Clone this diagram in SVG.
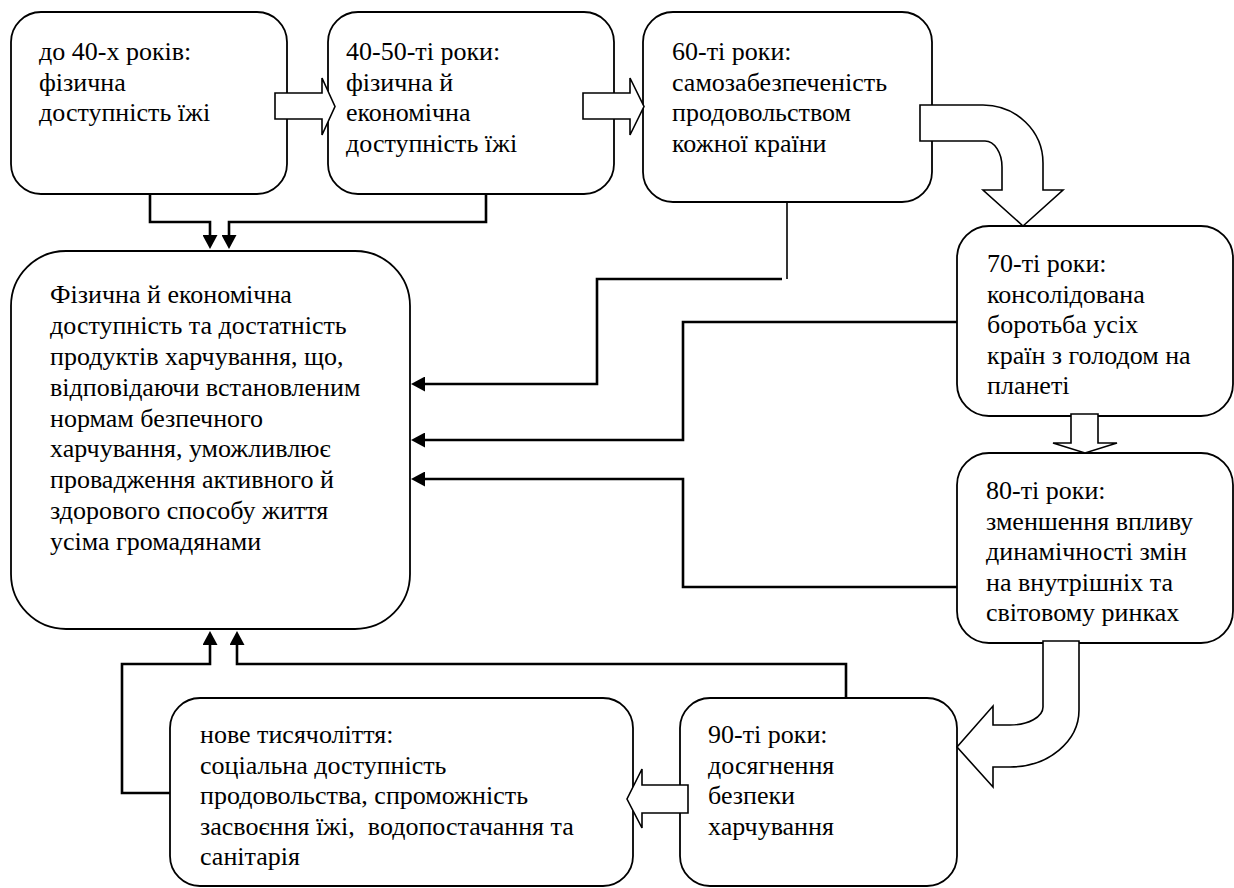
<svg xmlns="http://www.w3.org/2000/svg" width="1234" height="888" viewBox="0 0 1234 888">
<style>
.box{fill:#fff;stroke:#000;stroke-width:1.8}
.blk{fill:#fff;stroke:#000;stroke-width:1.6;stroke-linejoin:miter}
.con{fill:none;stroke:#000;stroke-width:2.6}
.thin{fill:none;stroke:#000;stroke-width:1.6}
.t{font-family:'Liberation Serif','Times New Roman',serif;font-size:26px;fill:#000;white-space:pre}
</style>
<defs>
<marker id="ah" viewBox="0 0 14 15" refX="8" refY="7.5" markerWidth="14" markerHeight="15" orient="auto" markerUnits="userSpaceOnUse">
<path d="M0,0 L14,7.5 L0,15 z" fill="#000"/>
</marker>
</defs>
<rect width="1234" height="888" fill="#fff"/>
<g id="connectors">
<path class="con" d="M150,194 V222 H210 V243" marker-end="url(#ah)"/>
<path class="con" d="M486,194 V222 H229 V243" marker-end="url(#ah)"/>
<path class="thin" d="M787,202 V279"/>
<path class="con" d="M782,279 H597 V384 H417" marker-end="url(#ah)"/>
<path class="con" d="M957,322 H683 V440 H417" marker-end="url(#ah)"/>
<path class="con" d="M957,587 H683 V479 H417" marker-end="url(#ah)"/>
<path class="con" d="M846,698 V664 H237 V637" marker-end="url(#ah)"/>
<path class="con" d="M170,793 H122 V664 H210 V637" marker-end="url(#ah)"/>
</g>
<g id="main">
<rect class="box" x="11" y="251" width="399" height="378" rx="55" ry="55"/>
<text class="t" x="50" y="303">Фізична й економічна</text>
<text class="t" x="50" y="334">доступність та достатність</text>
<text class="t" x="50" y="365">продуктів харчування, що,</text>
<text class="t" x="50" y="396">відповідаючи встановленим</text>
<text class="t" x="50" y="427">нормам безпечного</text>
<text class="t" x="50" y="457">харчування, уможливлює</text>
<text class="t" x="50" y="488">провадження активного й</text>
<text class="t" x="50" y="519">здорового способу життя</text>
<text class="t" x="50" y="550">усіма громадянами</text>
</g>
<g id="n1">
<rect class="box" x="11" y="12" width="276" height="182" rx="30" ry="30"/>
<text class="t" x="39" y="60">до 40-х років:</text>
<text class="t" x="39" y="90.5">фізична</text>
<text class="t" x="39" y="121">доступність їжі</text>
</g>
<g id="n2">
<rect class="box" x="328" y="12" width="286" height="182" rx="30" ry="30"/>
<text class="t" x="346" y="60">40-50-ті роки:</text>
<text class="t" x="346" y="90.5">фізична й</text>
<text class="t" x="346" y="121">економічна</text>
<text class="t" x="346" y="151.5">доступність їжі</text>
</g>
<g id="n3">
<rect class="box" x="643" y="12" width="289" height="190" rx="30" ry="30"/>
<text class="t" x="672" y="60">60-ті роки:</text>
<text class="t" x="672" y="90.5">самозабезпеченість</text>
<text class="t" x="672" y="121">продовольством</text>
<text class="t" x="672" y="151.5">кожної країни</text>
</g>
<g id="n4">
<rect class="box" x="957" y="226" width="276" height="190" rx="32" ry="32"/>
<text class="t" x="987" y="272">70-ті роки:</text>
<text class="t" x="987" y="302.5">консолідована</text>
<text class="t" x="987" y="333">боротьба усіх</text>
<text class="t" x="987" y="363.5">країн з голодом на</text>
<text class="t" x="987" y="394">планеті</text>
</g>
<g id="n5">
<rect class="box" x="957" y="453" width="276" height="190" rx="32" ry="32"/>
<text class="t" x="986" y="499">80-ті роки:</text>
<text class="t" x="986" y="529.5">зменшення впливу</text>
<text class="t" x="986" y="560">динамічності змін</text>
<text class="t" x="986" y="590.5">на внутрішніх та</text>
<text class="t" x="986" y="621">світовому ринках</text>
</g>
<g id="n6">
<rect class="box" x="680" y="698" width="277" height="188" rx="30" ry="30"/>
<text class="t" x="708" y="743">90-ті роки:</text>
<text class="t" x="708" y="773.5">досягнення</text>
<text class="t" x="708" y="804">безпеки</text>
<text class="t" x="708" y="834.5">харчування</text>
</g>
<g id="n7">
<rect class="box" x="170" y="698" width="463" height="188" rx="30" ry="30"/>
<text class="t" x="200" y="743">нове тисячоліття:</text>
<text class="t" x="200" y="773.5">соціальна доступність</text>
<text class="t" x="200" y="804">продовольства, спроможність</text>
<text class="t" x="200" y="834.5">засвоєння їжі,  водопостачання та</text>
<text class="t" x="200" y="865">санітарія</text>
</g>
<g id="block-arrows">
<path class="blk" d="M275,93 H322 V78 L335,106.5 L322,135 V119 H275 Z"/>
<path class="blk" d="M583,93 H630 V78 L644,106.5 L630,135 V119 H583 Z"/>
<path class="blk" d="M920,105 H983 A60,58 0 0 1 1043,163 V190 H1063 L1023,226 L983,190 H1002 V167 A17,26 0 0 0 985,141 H920 Z"/>
<path class="blk" d="M1071,414 H1098 V443 H1117 L1085,453 L1053,443 H1071 Z"/>
<path class="blk" d="M1043,641 V707 A33,18 0 0 1 1010,725 H993 V706 L957,747 L993,787 V767 H1010 A69,57 0 0 0 1079,710 V641 Z"/>
<path class="blk" d="M688,785 H642 V769 L627,799 L642,828 V813 H688 Z"/>
</g>
</svg>
